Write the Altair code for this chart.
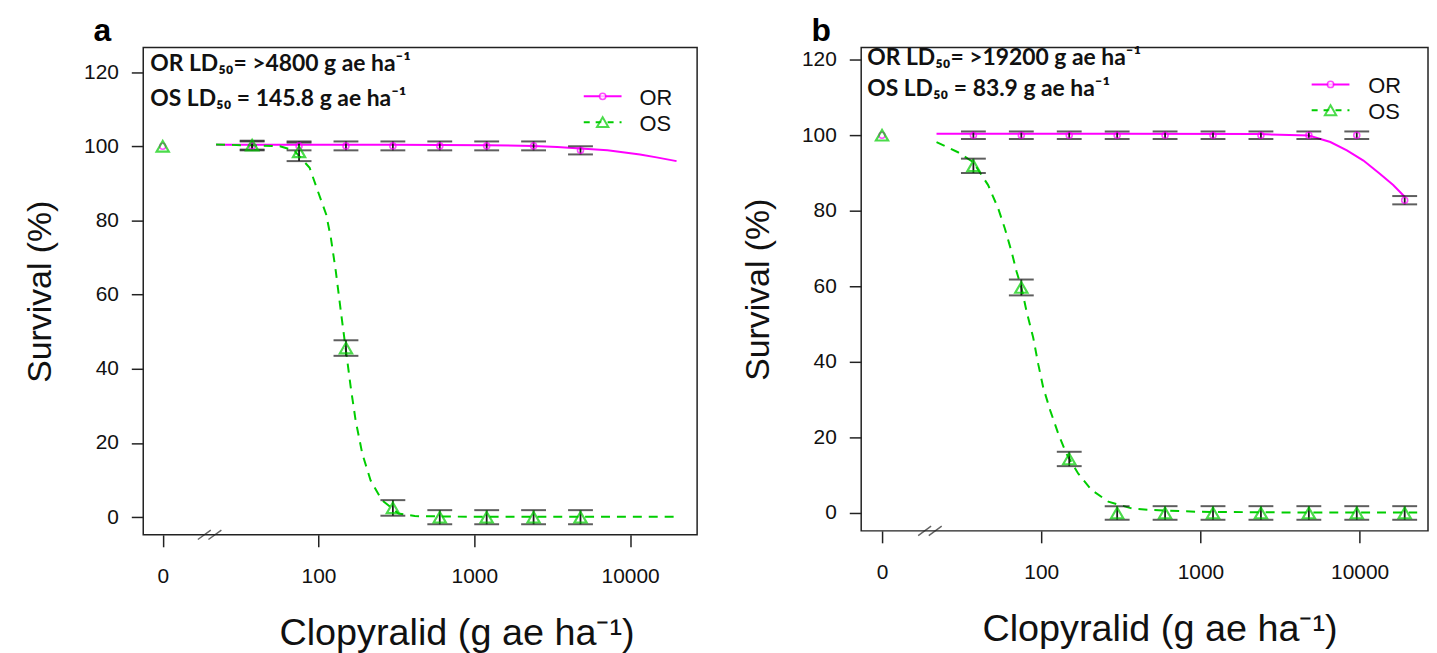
import altair as alt
import pandas as pd

# ---------------- data ----------------
# panel a (observed means and standard errors)
a_dose = [0, 37.5, 75, 150, 300, 600, 1200, 2400, 4800]
a_or_mean = [100, 100.1, 100.1, 100.1, 100.1, 100.1, 100.1, 100.1, 98.9]
a_or_se = [0, 1.2, 1.2, 1.2, 1.2, 1.2, 1.2, 1.2, 1.1]
a_os_mean = [100, 100.3, 98.5, 45.6, 2.5, 0, 0, 0, 0]
a_os_se = [0, 1.2, 2.5, 2.1, 2.1, 1.9, 1.9, 1.9, 1.9]
# panel a fitted curves
a_or_fit_x = [22, 300, 1200, 2400, 3400, 4800, 7150, 11570, 14770, 19850]
a_or_fit_y = [100.4, 100.4, 100.3, 100.1, 99.8, 99.4, 98.9, 97.8, 97.0, 96.0]
a_os_fit_x = [22, 56.6, 70, 87.7, 99, 112, 120, 129, 139, 150, 161, 173, 191,
              216, 255, 326, 415, 1000, 5000, 19200]
a_os_fit_y = [100.5, 100, 98.8, 94.2, 87.9, 81.6, 75.3, 66.4, 55.6, 44.9, 35.0,
              26.1, 17.1, 9.9, 4.6, 1.0, 0.3, 0.1, 0.1, 0.1]

# panel b (observed means and standard errors)
b_dose = [0, 37.5, 75, 150, 300, 600, 1200, 2400, 4800, 9600, 19200]
b_or_mean = [100, 100, 100, 100, 100, 100, 100, 100, 100, 100, 82.8]
b_or_se = [0, 1, 1, 1, 1, 1, 1, 1, 1, 1, 1.1]
b_os_mean = [100, 91.9, 59.7, 14.3, 0, 0, 0, 0, 0, 0, 0]
b_os_se = [0, 1.9, 2.1, 1.9, 1.8, 1.8, 1.8, 1.8, 1.8, 1.8, 1.8]
# panel b fitted curves
b_or_fit_x = [22, 300, 2400, 4800, 6550, 8320, 10570, 13400, 16260, 19200]
b_or_fit_y = [100.4, 100.4, 100.3, 99.9, 98.2, 96.0, 93.3, 89.8, 86.8, 83.7]
b_os_fit_x = [22, 30, 37.3, 46.4, 53.7, 59.1, 65.1, 70, 75.2, 80.9, 89.1, 95.8,
              103, 114, 128, 144, 171, 207, 264, 370, 492, 1000, 5000, 23000]
b_os_fit_y = [98.2, 95.5, 92.9, 86.8, 80.6, 75.3, 69.2, 63.9, 59.6, 53.4, 46.4,
              39.4, 33.2, 27.1, 21.0, 15.7, 10.4, 6.1, 3.0, 1.2, 0.8, 0.3, 0.1, 0.1]

a_notes = ["OR LD\u2085\u2080= >4800 g ae ha\u207b\u00b9", "OS LD\u2085\u2080 = 145.8 g ae ha\u207b\u00b9"]
b_notes = ["OR LD\u2085\u2080= >19200 g ae ha\u207b\u00b9", "OS LD\u2085\u2080 = 83.9 g ae ha\u207b\u00b9"]

series_names = ["OR", "OS"]
x_tick_values = [10, 100, 1000, 10000]   # 10 is where the 0 dose is drawn
y_tick_values = [0, 20, 40, 60, 80, 100, 120]
zero_position = 10
break_position = [20]

OR_COL = "#FF00FF"
OS_COL = "#00CD00"
BAR_COL = "#1a1a1a"
X_TITLE = "Clopyralid (g ae ha\u207b\u00b9)"
Y_TITLE = "Survival (%)"
BREAK_PATH = "M-1,0.4L0.1,-0.4M-0.1,0.4L1,-0.4"


def panel(letter, dose, or_m, or_se, os_m, os_se, orfx, orfy, osfx, osfy,
          notes, xdom, ydom, w, h, title_x, leg):
    rows = []
    for name, m, s in (("OR", or_m, or_se), ("OS", os_m, os_se)):
        for d, mv, sv in zip(dose, m, s):
            rows.append({"series": name, "x": d if d > 0 else zero_position,
                         "mean": mv, "lo": mv - sv, "hi": mv + sv, "se": sv})
    obs = pd.DataFrame(rows)
    bars = obs[obs["se"] > 0]
    fit_or = pd.DataFrame({"x": orfx, "y": orfy})
    fit_os = pd.DataFrame({"x": osfx, "y": osfy})

    xs = alt.Scale(type="log", domain=xdom, nice=False)
    ys = alt.Scale(domain=ydom, nice=False, zero=False)
    xax = alt.Axis(values=x_tick_values, title=X_TITLE, titleX=title_x,
                   labelExpr="datum.value == 10 ? '0' : format(datum.value, 'd')",
                   labelPadding=19, titlePadding=28, titleFontSize=38,
                   labelFlush=False)
    yax = alt.Axis(values=y_tick_values, title=Y_TITLE, labelPadding=13,
                   titlePadding=26)
    X = alt.X("x:Q", scale=xs, axis=xax)
    Xn = alt.X("x:Q", scale=xs)

    line_or = alt.Chart(fit_or).mark_line(color=OR_COL, strokeWidth=2).encode(
        x=X, y=alt.Y("y:Q", scale=ys, axis=yax))
    line_os = alt.Chart(fit_os).mark_line(color=OS_COL, strokeWidth=2,
                                          strokeDash=[9, 7]).encode(
        x=Xn, y=alt.Y("y:Q", scale=ys))
    rule = alt.Chart(bars).mark_rule(color=BAR_COL, strokeWidth=1.8).encode(
        x=Xn, y=alt.Y("lo:Q", scale=ys), y2="hi:Q")
    cap_lo = alt.Chart(bars).mark_tick(orient="horizontal", size=25, thickness=2,
                                       color=BAR_COL).encode(
        x=Xn, y=alt.Y("lo:Q", scale=ys))
    cap_hi = alt.Chart(bars).mark_tick(orient="horizontal", size=25, thickness=2,
                                       color=BAR_COL).encode(
        x=Xn, y=alt.Y("hi:Q", scale=ys))
    pts_or = alt.Chart(obs[obs["series"] == "OR"]).mark_point(
        shape="circle", color=OR_COL, size=36, strokeWidth=1.6, filled=False).encode(
        x=Xn, y=alt.Y("mean:Q", scale=ys))
    pts_os = alt.Chart(obs[obs["series"] == "OS"]).mark_point(
        shape="triangle-up", color=OS_COL, size=150, strokeWidth=2.2, filled=False).encode(
        x=Xn, y=alt.Y("mean:Q", scale=ys))
    brk = alt.Chart(pd.DataFrame({"x": break_position})).mark_point(
        shape=BREAK_PATH, size=560, filled=False, color="#222", strokeWidth=1.4).encode(
        x=Xn, y=alt.value(h))

    layers = [line_or, line_os, rule, cap_lo, cap_hi, pts_or, pts_os, brk]

    # the two LD50 notes
    for txt, ny in zip(notes, leg["note_y"]):
        layers.append(alt.Chart(pd.DataFrame({"t": [txt]})).mark_text(
            align="left", baseline="middle", font="Lato", fontWeight="bold",
            fontSize=23, color="#111").encode(
            x=alt.value(leg["note_x"]), y=alt.value(ny), text="t:N"))

    # legend (drawn inside the plot as in the reference)
    lx0, lx1, lxc, ltx = leg["x0"], leg["x1"], leg["xc"], leg["tx"]
    for name, ly in zip(series_names, leg["y"]):
        df = pd.DataFrame({"series": [name]})
        if name == "OR":
            layers.append(alt.Chart(df).mark_rule(color=OR_COL, strokeWidth=2).encode(
                x=alt.value(lx0), x2=alt.value(lx1), y=alt.value(ly)))
            layers.append(alt.Chart(df).mark_point(
                shape="circle", color=OR_COL, size=40, strokeWidth=1.6, filled=False,
                fill="white").encode(x=alt.value(lxc), y=alt.value(ly)))
        else:
            layers.append(alt.Chart(df).mark_rule(color=OS_COL, strokeWidth=2,
                                                  strokeDash=[6, 6]).encode(
                x=alt.value(lx0), x2=alt.value(lx1), y=alt.value(ly)))
            layers.append(alt.Chart(df).mark_point(
                shape="triangle-up", color=OS_COL, size=130, strokeWidth=2,
                filled=False, fill="white").encode(x=alt.value(lxc), y=alt.value(ly)))
        layers.append(alt.Chart(df).mark_text(
            align="left", baseline="middle", font="Liberation Sans", fontSize=22,
            color="#111").encode(x=alt.value(ltx), y=alt.value(ly + 2),
                                 text="series:N"))

    return alt.layer(*layers).properties(
        width=w, height=h,
        title=alt.TitleParams(letter, anchor="start", frame="group", dx=-50,
                              fontSize=32, fontWeight="bold",
                              font="Liberation Sans", offset=0, color="#000"))


pa = panel("a", a_dose, a_or_mean, a_or_se, a_os_mean, a_os_se,
           a_or_fit_x, a_or_fit_y, a_os_fit_x, a_os_fit_y, a_notes,
           [7.5, 26900], [-4.76, 126.6], 557, 490, 315,
           {"note_x": 7, "note_y": [17, 52], "x0": 443, "x1": 481, "xc": 462,
            "tx": 499, "y": [49, 75]})
pb = panel("b", b_dose, b_or_mean, b_or_se, b_os_mean, b_os_se,
           b_or_fit_x, b_or_fit_y, b_os_fit_x, b_os_fit_y, b_notes,
           [7.4, 26900], [-4.74, 123.2], 570, 486, 300,
           {"note_x": 6, "note_y": [11, 42], "x0": 453, "x1": 491, "xc": 472,
            "tx": 510, "y": [37, 63]})

chart = alt.hconcat(pa, pb, spacing=43).properties(
    padding={"left": 15, "top": 4, "right": 0, "bottom": 0}
).configure_axis(
    labelFont="Liberation Sans", labelFontSize=21, labelColor="#111",
    titleFont="Liberation Sans", titleFontSize=34, titleFontWeight="normal",
    titleColor="#111", tickColor="#222", tickWidth=1.5, tickSize=12,
    domain=False, grid=False
).configure_view(stroke="#222", strokeWidth=1.5)

chart.save("out.html", embed_options={"renderer": "svg", "actions": False})
